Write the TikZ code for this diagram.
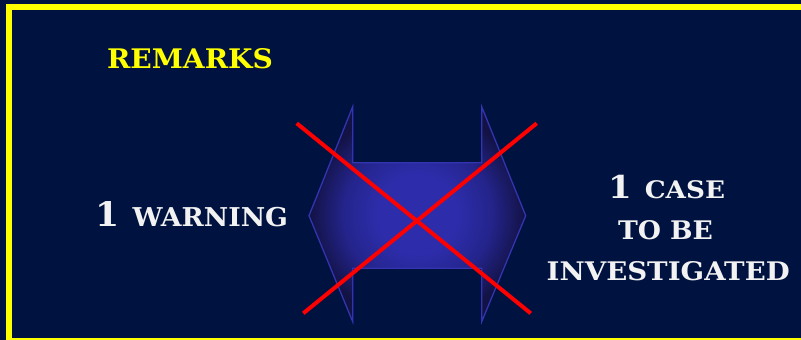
\documentclass[tikz,border=0pt]{standalone}
\usepackage{fontspec}
\setmainfont{DejaVu Serif}
\usepackage{graphicx}
\definecolor{bg}{RGB}{0,18,64}
\definecolor{frameyellow}{RGB}{255,255,0}
\definecolor{txtwhite}{RGB}{242,242,242}
\definecolor{acenter}{RGB}{45,45,172}
\definecolor{amid}{RGB}{36,36,140}
\definecolor{aedge}{RGB}{18,18,68}
\definecolor{aline}{RGB}{52,52,178}
\definecolor{xred}{RGB}{255,0,0}
\pgfdeclareradialshading{arrowshade}{\pgfpoint{0bp}{0bp}}{color(0bp)=(acenter); color(9bp)=(acenter); color(17bp)=(amid); color(25bp)=(aedge); color(50bp)=(aedge)}
\newcommand{\myfit}[3]{\resizebox{#1pt}{#2pt}{#3}}
\newcommand{\bigone}{{\fontsize{26}{26}\selectfont 1}}
\tikzset{
  lbl/.style={anchor=base west, inner sep=0pt, outer sep=0pt, text=txtwhite,
              font=\fontsize{20}{24}\selectfont\bfseries},
  crossline/.style={draw=xred, line width=4pt},
  arrowbody/.style={draw=aline, line width=1.3pt, shading=arrowshade}
}
\begin{document}
\begin{tikzpicture}[x=1pt,y=-1pt]
\useasboundingbox (0,0) rectangle (801,340);
\clip (0,0) rectangle (801,340);
\fill[bg] (0,0) rectangle (801,340);
\draw[frameyellow, line width=5.8pt] (9,7) rectangle (815,340.5);
% double arrow
\path[arrowbody] (309,215.7) -- (352.7,106.7) -- (352.7,162.7) -- (481.7,162.7)
  -- (481.7,106.7) -- (525.7,215.7) -- (481.7,321.7) -- (481.7,268.3)
  -- (352.7,268.3) -- (352.7,321.7) -- cycle;
% red cross
\coordinate (xa1) at (296.7,123.3);
\coordinate (xa2) at (530.7,313.3);
\coordinate (xb1) at (536.7,123.3);
\coordinate (xb2) at (303.3,313.3);
\draw[crossline] (xa1) -- (xa2);
\draw[crossline] (xb1) -- (xb2);
% texts
\node[lbl, text=frameyellow] (remarks) at (107,68.3) {\myfit{166}{20}{REMARKS}};
\node[lbl] (warning) at (95,226.7) {\myfit{193}{25}{\bigone\hspace{10pt}WARNING}};
\node[lbl] (case) at (608,198.3) {\myfit{117}{23.3}{\bigone\hspace{10pt}CASE}};
\node[lbl] (tobe) at (618,239) {\myfit{95}{19}{TO BE}};
\node[lbl] (invest) at (546.7,280.7) {\myfit{243}{19}{INVESTIGATED}};
\end{tikzpicture}
\end{document}
